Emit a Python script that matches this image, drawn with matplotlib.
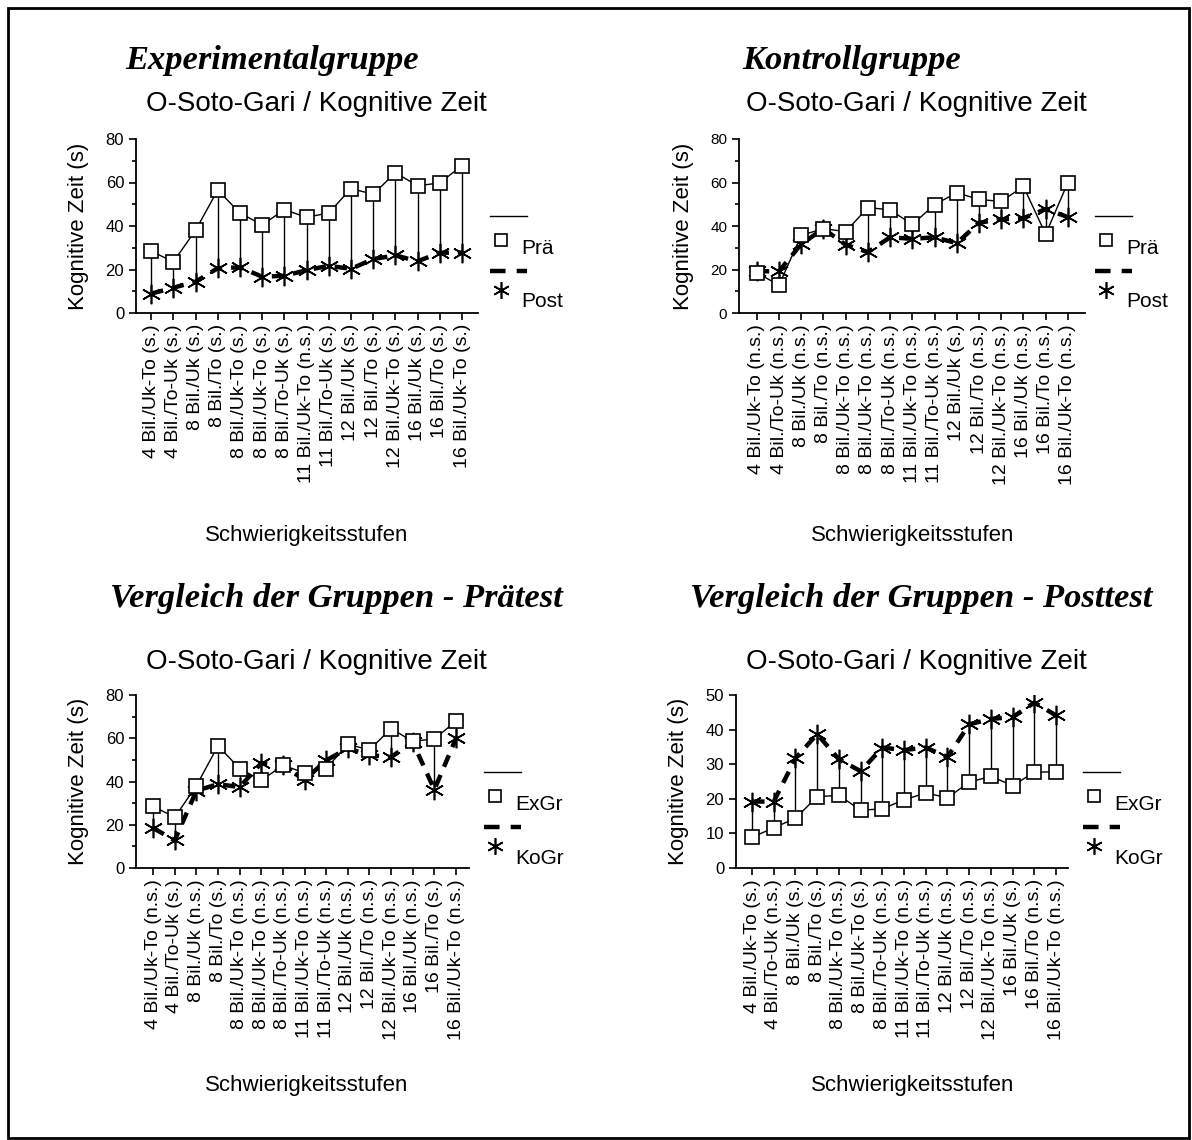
import matplotlib
matplotlib.use('Agg')
import matplotlib.pyplot as plt
from matplotlib.lines import Line2D
from matplotlib.patches import Rectangle

plt.rcParams['font.family'] = ['Liberation Sans', 'DejaVu Sans']

W, H = 1192, 1140

levels_exp = ['4 Bil./Uk-To (s.)', '4 Bil./To-Uk (s.)', '8 Bil./Uk (s.)', '8 Bil./To (s.)',
              '8 Bil./Uk-To (s.)', '8 Bil./Uk-To (s.)', '8 Bil./To-Uk (s.)', '11 Bil./Uk-To (n.s.)',
              '11 Bil./To-Uk (s.)', '12 Bil./Uk (s.)', '12 Bil./To (s.)', '12 Bil./Uk-To (s.)',
              '16 Bil./Uk (s.)', '16 Bil./To (s.)', '16 Bil./Uk-To (s.)']
levels_ko = ['4 Bil./Uk-To (n.s.)', '4 Bil./To-Uk (n.s.)', '8 Bil./Uk (n.s.)', '8 Bil./To (n.s.)',
             '8 Bil./Uk-To (n.s.)', '8 Bil./Uk-To (n.s.)', '8 Bil./To-Uk (n.s.)', '11 Bil./Uk-To (n.s.)',
             '11 Bil./To-Uk (n.s.)', '12 Bil./Uk (s.)', '12 Bil./To (n.s.)', '12 Bil./Uk-To (n.s.)',
             '16 Bil./Uk (n.s.)', '16 Bil./To (n.s.)', '16 Bil./Uk-To (n.s.)']
levels_pre = ['4 Bil./Uk-To (n.s.)', '4 Bil./To-Uk (s.)', '8 Bil./Uk (n.s.)', '8 Bil./To (s.)',
              '8 Bil./Uk-To (n.s.)', '8 Bil./Uk-To (n.s.)', '8 Bil./To-Uk (n.s.)', '11 Bil./Uk-To (n.s.)',
              '11 Bil./To-Uk (n.s.)', '12 Bil./Uk (n.s.)', '12 Bil./To (n.s.)', '12 Bil./Uk-To (n.s.)',
              '16 Bil./Uk (n.s.)', '16 Bil./To (s.)', '16 Bil./Uk-To (n.s.)']
levels_post = ['4 Bil./Uk-To (s.)', '4 Bil./To-Uk (n.s.)', '8 Bil./Uk (s.)', '8 Bil./To (s.)',
               '8 Bil./Uk-To (n.s.)', '8 Bil./Uk-To (s.)', '8 Bil./To-Uk (n.s.)', '11 Bil./Uk-To (n.s.)',
               '11 Bil./To-Uk (n.s.)', '12 Bil./Uk (n.s.)', '12 Bil./To (n.s.)', '12 Bil./Uk-To (n.s.)',
               '16 Bil./Uk (s.)', '16 Bil./To (n.s.)', '16 Bil./Uk-To (n.s.)']

exp_pre = [28.5, 23.5, 38, 56.5, 46, 40.5, 47.5, 44, 46, 57.2, 54.6, 64.5, 58.5, 59.8, 67.8]
exp_post = [8.9, 11.6, 14.4, 20.6, 21, 16.7, 17.1, 19.7, 21.7, 20.3, 24.8, 26.5, 23.8, 27.7, 27.8]
ko_pre = [18.5, 12.8, 35.7, 38.8, 37.4, 48.5, 47.4, 40.7, 49.8, 55.3, 52.2, 51.3, 58.2, 36.2, 60]
ko_post = [19.2, 19.2, 31.7, 38.7, 31.4, 28, 34.8, 34.1, 34.8, 32.1, 41.5, 43.1, 43.6, 47.8, 44.1]

ASTER = (6, 2, 0)


def px_axes(fig, left, right, top, bottom):
    return fig.add_axes([left / W, 1 - bottom / H, (right - left) / W, (bottom - top) / H])


def panel(fig, box, xlim, ymax, step, minor, solid, dashed, labels, ysize):
    ax = px_axes(fig, *box)
    x = list(range(len(labels)))
    for xi, a, b in zip(x, solid, dashed):
        ax.vlines(xi, min(a, b), max(a, b), color='black', lw=1.0, zorder=1)
    ax.plot(x, dashed, color='black', lw=3.2, linestyle=(0, (2.8, 2.0)), zorder=2)
    ax.plot(x, dashed, ls='none', marker=ASTER, ms=14, mec='black', mew=1.2, zorder=3)
    ax.plot(x, solid, color='black', lw=1.0, marker='s', ms=10.5, mfc='white', mec='black',
            mew=1.2, zorder=4)
    ax.set_xlim(*xlim)
    ax.set_ylim(0, ymax)
    ax.set_yticks(range(0, ymax + 1, step))
    if minor:
        ax.set_yticks(range(step // 2, ymax, step), minor=True)
    ax.set_xticks(x)
    ax.set_xticklabels(labels, rotation=90, fontsize=14)
    ax.tick_params(axis='y', labelsize=ysize, length=5, width=1.2)
    ax.tick_params(axis='y', which='minor', length=3, width=1.2)
    ax.tick_params(axis='x', length=5, width=1.2, pad=3)
    for s in ['top', 'right']:
        ax.spines[s].set_visible(False)
    for s in ['left', 'bottom']:
        ax.spines[s].set_linewidth(1.3)
    ax.set_ylabel('Kognitive Zeit (s)', fontsize=16, labelpad=12)
    return ax


def legend(fig, x0, y0, lab1, lab2):
    tr = fig.transFigure
    fx = lambda v: v / W
    fy = lambda v: 1 - v / H
    fig.add_artist(Line2D([fx(x0), fx(x0 + 37)], [fy(y0), fy(y0)], color='black', lw=1.0, transform=tr))
    fig.add_artist(Line2D([fx(x0 + 11)], [fy(y0 + 24)], marker='s', ms=8, mfc='white', mec='black',
                          mew=1.2, transform=tr))
    fig.text(fx(x0 + 31), fy(y0 + 32), lab1, fontsize=15, va='center', ha='left')
    fig.add_artist(Line2D([fx(x0), fx(x0 + 37)], [fy(y0 + 55), fy(y0 + 55)], color='black', lw=3.2,
                          linestyle=(0, (3.5, 2.5)), transform=tr))
    fig.add_artist(Line2D([fx(x0 + 11)], [fy(y0 + 74)], marker=ASTER, ms=12, mec='black', mew=1.2,
                          transform=tr))
    fig.text(fx(x0 + 31), fy(y0 + 86), lab2, fontsize=15, va='center', ha='left')


fig = plt.figure(figsize=(W / 100, H / 100), dpi=100)
fig.add_artist(Rectangle((8 / W, 2 / H), (1189 - 8) / W, (1132 - 2) / H, transform=fig.transFigure,
                         fill=False, ec='black', lw=2))

panel(fig, (136, 478, 139, 313), (-0.68, 14.72), 80, 20, True, exp_pre, exp_post, levels_exp, 12)
panel(fig, (739, 1085, 139, 313), (-0.8, 14.77), 80, 20, True, ko_pre, ko_post, levels_ko, 11)
panel(fig, (136, 469, 695, 868), (-0.79, 14.6), 80, 20, True, exp_pre, ko_pre, levels_pre, 12)
panel(fig, (736, 1068, 695, 868), (-0.74, 14.55), 50, 10, False, exp_post, ko_post, levels_post, 12)

title_font = dict(family=['Liberation Serif', 'DejaVu Serif'], fontsize=24.8, fontweight='bold',
                  fontstyle='italic', va='center', ha='left')
fig.text(125 / W, 1 - 60 / H, 'Experimentalgruppe', **title_font)
fig.text(742 / W, 1 - 60 / H, 'Kontrollgruppe', **title_font)
fig.text(110 / W, 1 - 598 / H, 'Vergleich der Gruppen - Prätest', **title_font)
fig.text(690 / W, 1 - 598 / H, 'Vergleich der Gruppen - Posttest', **title_font)

for cx, cy in [(316, 104), (916, 104), (316, 662), (916, 662)]:
    fig.text(cx / W, 1 - cy / H, 'O-Soto-Gari / Kognitive Zeit', fontsize=20, ha='center', va='center')

for cx, cy in [(307, 535), (913, 535), (307, 1085), (913, 1085)]:
    fig.text(cx / W, 1 - cy / H, 'Schwierigkeitsstufen', fontsize=16, ha='center', va='center')

legend(fig, 490, 216, 'Prä', 'Post')
legend(fig, 1095, 216, 'Prä', 'Post')
legend(fig, 484, 772, 'ExGr', 'KoGr')
legend(fig, 1083, 772, 'ExGr', 'KoGr')

fig.savefig('out.png', dpi=100, facecolor='white')
